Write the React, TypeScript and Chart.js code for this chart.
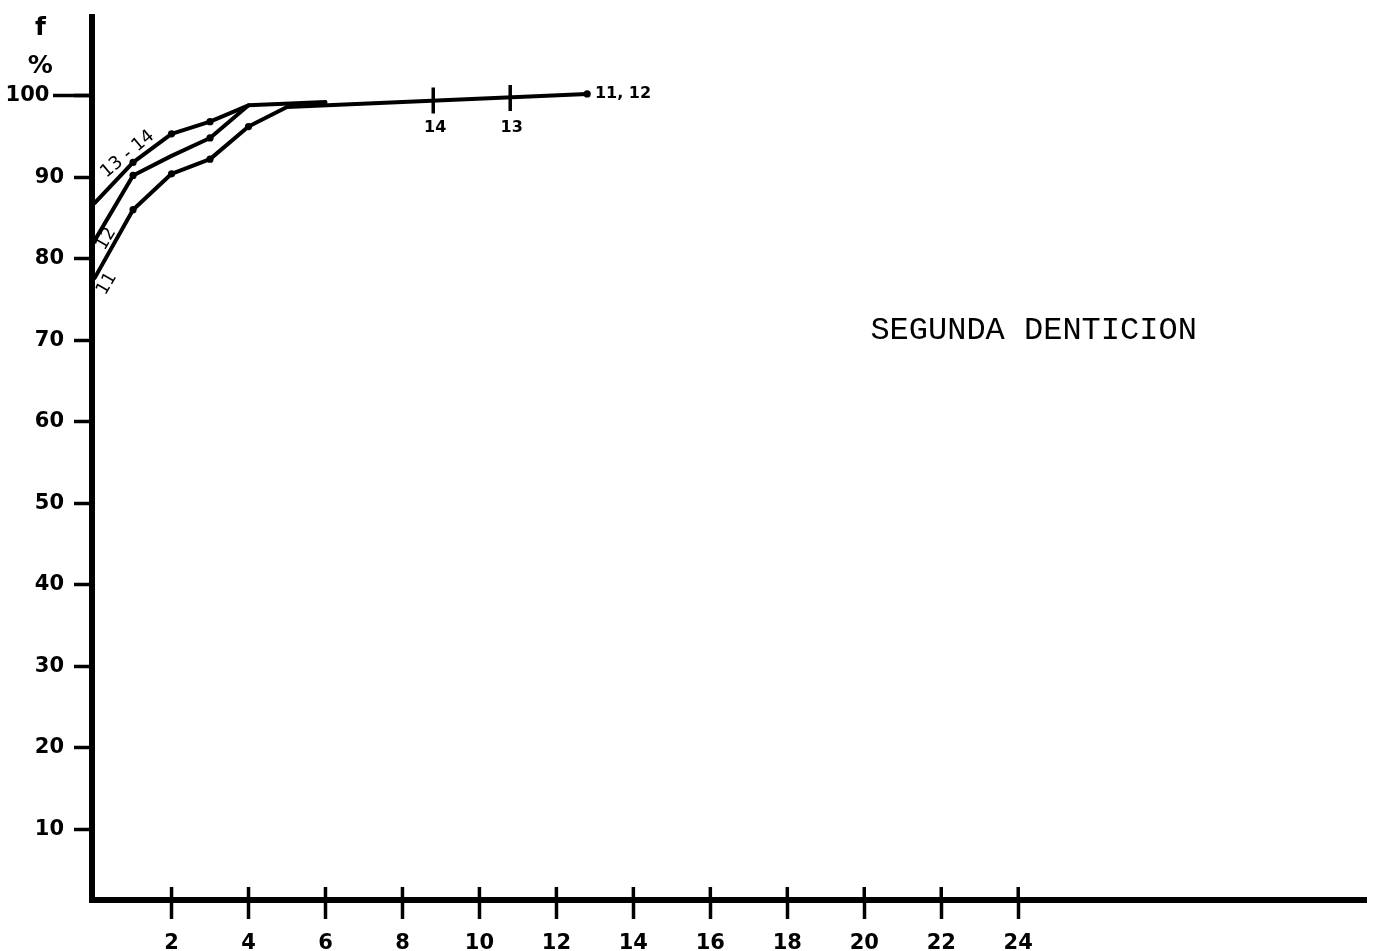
import React, { useEffect, useRef } from "react";
import { Chart, registerables } from "chart.js";

Chart.register(...registerables);

// ---- data ----
const xTickValues = [2, 4, 6, 8, 10, 12, 14, 16, 18, 20, 22, 24];
const yTickValues = [10, 20, 30, 40, 50, 60, 70, 80, 90, 100];

const series11X = [0, 1, 2, 3, 4, 5, 12.8];
const series11Y = [77.6, 86.0, 90.4, 92.2, 96.2, 98.6, 100.2];

const series12X = [0, 1, 2, 3, 4];
const series12Y = [82.2, 90.2, 92.6, 94.8, 98.8];

const series1314X = [0, 1, 2, 3, 4, 6];
const series1314Y = [86.8, 91.8, 95.3, 96.8, 98.8, 99.2];

const markX = [8.8, 10.8];
const markY = [99.4, 99.7];

// annotation texts (data coordinates)
const annTexts = ["f", "%", "13 - 14", "12", "11", "14", "13", "11, 12", "SEGUNDA DENTICION"];
const annX = [-1.41, -1.41, 0.86, 0.3, 0.32, 8.85, 10.84, 13.0, 24.4];
const annY = [108.2, 103.6, 92.8, 82.4, 76.9, 96.1, 96.1, 100.2, 71.2];

const toPts = (xs: number[], ys: number[]) => xs.map((x, i) => ({ x, y: ys[i] }));

const annStyles = [
  { font: "bold 25px 'DejaVu Sans'", rot: 0, align: "center" },
  { font: "bold 25px 'DejaVu Sans'", rot: 0, align: "center" },
  { font: "18px 'DejaVu Sans'", rot: -40, align: "center" },
  { font: "18px 'DejaVu Sans'", rot: -60, align: "center" },
  { font: "18px 'DejaVu Sans'", rot: -60, align: "center" },
  { font: "bold 16px 'DejaVu Sans'", rot: 0, align: "center" },
  { font: "bold 16px 'DejaVu Sans'", rot: 0, align: "center" },
  { font: "bold 16px 'DejaVu Sans'", rot: 0, align: "left" },
  { font: "32px 'Liberation Mono'", rot: 0, align: "center" },
];

const annotPlugin = {
  id: "annot",
  afterDraw(chart: any) {
    const { ctx, chartArea } = chart;
    const xs = chart.scales.x;
    const ys = chart.scales.y;
    ctx.save();
    ctx.strokeStyle = "#000";
    ctx.lineWidth = 3.5;
    // inner halves of x ticks
    for (const v of xTickValues) {
      const px = xs.getPixelForValue(v);
      ctx.beginPath();
      ctx.moveTo(px, chartArea.bottom - 13);
      ctx.lineTo(px, chartArea.bottom);
      ctx.stroke();
    }
    // longer dash at 100
    const p100 = ys.getPixelForValue(100);
    ctx.beginPath();
    ctx.moveTo(chartArea.left - 39, p100);
    ctx.lineTo(chartArea.left, p100);
    ctx.stroke();
    // texts
    ctx.fillStyle = "#000";
    ctx.textBaseline = "middle";
    annTexts.forEach((t, i) => {
      const st = annStyles[i];
      const px = xs.getPixelForValue(annX[i]);
      const py = ys.getPixelForValue(annY[i]);
      ctx.save();
      ctx.translate(px, py);
      ctx.rotate((st.rot * Math.PI) / 180);
      ctx.font = st.font;
      ctx.textAlign = st.align;
      ctx.fillText(t, 0, 0);
      ctx.restore();
    });
    ctx.restore();
  },
};

export default function App() {
  const ref = useRef<HTMLCanvasElement | null>(null);
  useEffect(() => {
    if (!ref.current) return;
    Chart.defaults.font.family = "'DejaVu Sans'";
    const lineStyle = {
      borderColor: "#000",
      backgroundColor: "#000",
      borderWidth: 4,
      tension: 0,
      pointBorderWidth: 0,
      pointBackgroundColor: "#000",
      pointHoverRadius: 0,
      borderCapStyle: "round",
      borderJoinStyle: "round",
    };
    const chart = new Chart(ref.current, {
      type: "line",
      data: {
        datasets: [
          {
            ...lineStyle,
            label: "11",
            data: toPts(series11X, series11Y),
            pointRadius: [0, 3.6, 3.6, 3.6, 3.6, 0, 3.6],
          },
          {
            ...lineStyle,
            label: "12",
            data: toPts(series12X, series12Y),
            pointRadius: [0, 3.6, 0, 3.6, 0],
          },
          {
            ...lineStyle,
            label: "13-14",
            data: toPts(series1314X, series1314Y),
            pointRadius: [0, 3.6, 3.6, 3.6, 0, 0],
          },
          {
            label: "marks",
            data: toPts(markX, markY),
            showLine: false,
            pointStyle: "line",
            rotation: 90,
            pointRadius: 13,
            pointBorderWidth: 3.5,
            pointBorderColor: "#000",
            borderColor: "#000",
          } as any,
        ],
      },
      options: {
        responsive: false,
        animation: false,
        devicePixelRatio: 1,
        layout: { padding: { top: 4, right: 10, left: 0, bottom: 0 } },
        plugins: { legend: { display: false }, tooltip: { enabled: false } },
        scales: {
          x: {
            type: "linear",
            min: -0.067,
            max: 33.05,
            afterFit: (s: any) => {
              s.height = 51;
              s.paddingLeft = 0;
              s.paddingRight = 0;
            },
            afterBuildTicks: (s: any) => {
              s.ticks = xTickValues.map((v) => ({ value: v }));
            },
            ticks: {
              color: "#000",
              font: { size: 21, weight: "bold" },
              padding: 12,
              maxRotation: 0,
              autoSkip: false,
            },
            grid: {
              drawOnChartArea: false,
              drawTicks: true,
              tickLength: 19,
              tickWidth: 3.5,
              tickColor: "#000",
              color: "#000",
            },
            border: { display: true, width: 6, color: "#000" },
          },
          y: {
            type: "linear",
            min: 1.3,
            max: 109.7,
            afterFit: (s: any) => {
              s.width = 92;
              s.paddingTop = 0;
              s.paddingBottom = 0;
            },
            afterBuildTicks: (s: any) => {
              s.ticks = yTickValues.map((v) => ({ value: v }));
            },
            ticks: {
              color: "#000",
              font: { size: 21, weight: "bold" },
              padding: 10,
              autoSkip: false,
              callback: (v: any) => (v === 100 ? "100  " : String(v)),
            },
            grid: {
              drawOnChartArea: false,
              drawTicks: true,
              tickLength: 18,
              tickWidth: 3.5,
              tickColor: "#000",
              color: "#000",
            },
            border: { display: true, width: 6, color: "#000" },
          },
        },
      },
      plugins: [annotPlugin],
    });
    return () => chart.destroy();
  }, []);

  return (
    <div style={{ position: "absolute", top: 0, left: 0, width: 1383, height: 951, overflow: "hidden", background: "#fff" }}>
      <canvas ref={ref} width={1383} height={951} style={{ display: "block" }} />
    </div>
  );
}
